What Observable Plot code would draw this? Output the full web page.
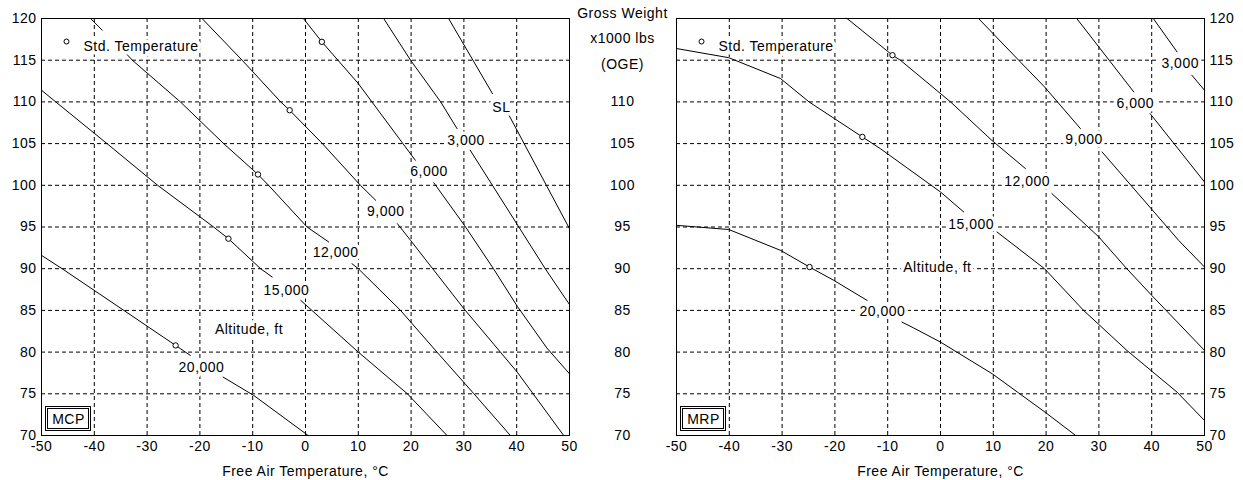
<!DOCTYPE html>
<html>
<head>
<meta charset="utf-8">
<script src="https://cdn.jsdelivr.net/npm/d3@7"></script>
<script src="https://cdn.jsdelivr.net/npm/@observablehq/plot@0.6"></script>
<style>
  html, body { margin: 0; padding: 0; background: #fff; }
  #chart { display: flex; width: 1243px; height: 480px; background: #fff; }
  #chart svg { flex: none; }
</style>
</head>
<body>
<div id="chart"></div>
<script>
// ---------- tick labels ----------
const xTicks = [-50, -40, -30, -20, -10, 0, 10, 20, 30, 40, 50];
const yTicks = [70, 75, 80, 85, 90, 95, 100, 105, 110, 115, 120];
const centerTicks = [70, 75, 80, 85, 90, 95, 100, 105, 110];
const gridXTicks = [-40, -30, -20, -10, 0, 10, 20, 30, 40];
const gridYTicks = [75, 80, 85, 90, 95, 100, 105, 110, 115];

// ---------- MCP curves [temperature °C, gross weight x1000 lbs]; null = gap ----------
const mcpSL    = [[27.1,120],[35.4,111],null,[38.2,108.8],[50,94.8]];
const mcp3000  = [[14.8,120],[19.9,115],[25.6,110],[28.7,106.8],null,[31.2,104.2],[40.4,95],[45.4,90],[50,85.7]];
const mcp6000  = [[-0.4,120],[3.1,117.2],[10,112.2],[20.8,103],null,[24.3,100.3],[30.1,95.2],[35.6,90],[40.1,85.5],[45.7,80.5],[50,77.4]];
const mcp9000  = [[-19.6,120],[-12,115],[-4.7,110],[-3,109],[3.2,105],[10.4,100],[13.3,98.2],null,[17.4,95.4],[19.9,93.4],[30,85.2],[40.1,77.6],[48.9,70]];
const mcp12000 = [[-40.7,120],[-38.5,118.6],null,[-34.4,116.1],[-32.8,115],[-23.7,110],[-15.5,105],[-9,101.3],[-7,100],[0.3,95],[4.4,93.2],null,[8.8,90.6],[10,90],[18,85],[24.9,80],[31.9,75],[38.8,70]];
const mcp15000 = [[-50,111.4],[-47.3,110],[-37.6,105],[-28,100],[-17.4,95],[-14.6,93.6],[-8.5,90],[-6.3,89],null,[-0.9,86.2],[10,80],[19.3,75],[26.8,70]];
const mcp20000 = [[-50,91.6],[-46.1,90],[-34.4,85],[-24.6,80.8],[-21.8,79.6],null,[-15.6,77],[-9.8,74.8],[0.5,70]];

// ---------- MRP curves ----------
const mrp3000  = [[40.3,120],[44.8,116],null,[47.6,113.2],[50,111.4]];
const mrp6000  = [[25.8,120],[36.6,111.2],null,[39.7,108.6],[50,100.4]];
const mrp9000  = [[7.2,120],[14.8,115],[19.7,111.8],[26.5,106.8],null,[30.6,104],[45.1,93.4],[50,90.2]];
const mrp12000 = [[-17.7,120],[-9.1,115.6],[-7.6,115],[1.9,110],[9.7,105.4],[16.1,102],null,[21.1,99],[30,93.8],[35,90.2],[40,86.8],[50,80.2]];
const mrp15000 = [[-50,116.4],[-40.1,115.3],[-30.3,112.8],[-24.9,110],[-14.8,105.8],[-11.4,104.4],[0,99.2],[4.4,96.8],null,[10.7,94.4],[19.7,90],[27.1,85],[35.3,80.2],[44.8,75.2],[50,71.8]];
const mrp20000 = [[-50,95.2],[-40.1,94.7],[-30.3,92.2],[-24.8,90.2],[-20.2,88.6],[-13.9,86.2],null,[-7.3,83.6],[-5.1,82.9],[0,81.2],[9.8,77.4],[14.8,75.1],[19.8,72.8],[25.6,70]];

// ---------- standard temperature points ----------
const mcpStdT = [-24.6, -14.6, -9, -3, 3.1];
const mcpStdW = [80.8, 93.6, 101.3, 109, 117.2];
const mrpStdT = [-24.8, -14.8, -9.1];
const mrpStdW = [90.2, 105.8, 115.6];

// ---------- curve labels ----------
const mcpLabelText = ["SL", "3,000", "6,000", "9,000", "12,000", "15,000", "20,000", "Altitude, ft"];
const mcpLabelT    = [37.1, 30.4, 23.4, 15.2, 5.7, -3.6, -19.7, -10.7];
const mcpLabelW    = [109.3, 105.4, 101.6, 96.8, 92, 87.4, 78.2, 82.7];
const mrpLabelText = ["3,000", "6,000", "9,000", "12,000", "15,000", "20,000", "Altitude, ft"];
const mrpLabelT    = [45.4, 36.9, 27.2, 16.4, 5.8, -11, -0.6];
const mrpLabelW    = [114.6, 109.8, 105.5, 100.5, 95.3, 84.9, 90.2];

const xTitle = "Free Air Temperature, °C";
const yTitle = "Gross Weight\nx1000 lbs\n(OGE)";
const legendText = "Std. Temperature";

// ---------- build tables ----------
function rows(series) {
  return series.flatMap(([alt, pts]) =>
    pts.map(p => p ? {alt, T: p[0], W: p[1]} : {alt, T: NaN, W: NaN}));
}
const mcpRows = rows([["SL", mcpSL], ["3000", mcp3000], ["6000", mcp6000], ["9000", mcp9000], ["12000", mcp12000], ["15000", mcp15000], ["20000", mcp20000]]);
const mrpRows = rows([["3000", mrp3000], ["6000", mrp6000], ["9000", mrp9000], ["12000", mrp12000], ["15000", mrp15000], ["20000", mrp20000]]);
const zip2 = (a, b) => a.map((v, i) => ({T: v, W: b[i]}));
const zip3 = (s, a, b) => s.map((t, i) => ({text: t, T: a[i], W: b[i]}));

const fmt = d => String(d);
const style = {
  fontFamily: "'Liberation Sans', Arial, sans-serif",
  fontSize: "14px",
  letterSpacing: "0.5px",
  background: "transparent",
  color: "black",
  overflow: "visible"
};

function boxMark(label) {
  return (index, scales, values, dims) => {
    const w = 45, h = 24;
    const x0 = dims.marginLeft + 4;
    const y0 = dims.height - dims.marginBottom - 5 - h;
    const g = d3.create("svg:g");
    g.append("rect").attr("x", x0 + 0.5).attr("y", y0 + 0.5).attr("width", w).attr("height", h)
      .attr("fill", "white").attr("stroke", "black");
    g.append("rect").attr("x", x0 + 2.5).attr("y", y0 + 2.5).attr("width", w - 4).attr("height", h - 4)
      .attr("fill", "none").attr("stroke", "black");
    g.append("text").attr("x", x0 + w / 2 + 1).attr("y", y0 + h / 2 + 1).attr("text-anchor", "middle")
      .attr("dy", "0.35em").attr("fill", "black").text(label);
    return g.node();
  };
}

function panel({width, marginLeft, marginRight, data, stdT, stdW, labT, labW, labText, box, left}) {
  const marks = [
    Plot.gridX(gridXTicks, {stroke: "black", strokeOpacity: 1, strokeDasharray: "4,3"}),
    Plot.gridY(gridYTicks, {stroke: "black", strokeOpacity: 1, strokeDasharray: "4,3"}),
    Plot.line(data, {x: "T", y: "W", z: "alt", stroke: "black", strokeWidth: 1}),
    Plot.dot(zip2(stdT, stdW), {x: "T", y: "W", r: 2.7, stroke: "black", strokeWidth: 1, fill: "white"}),
    Plot.text(zip3(labText, labT, labW), {x: "T", y: "W", text: "text", fill: "black", stroke: "white", strokeWidth: 7}),
    Plot.text([legendText], {frameAnchor: "top-left", dx: 42, dy: 23, textAnchor: "start", fill: "black", stroke: "white", strokeWidth: 7}),
    Plot.dot([legendText], {frameAnchor: "top-left", dx: 25, dy: 23, r: 2.5, stroke: "black", strokeWidth: 1, fill: "white"}),
    Plot.frame({stroke: "black"}),
    Plot.axisX(xTicks, {tickSize: 0, tickPadding: 6, tickFormat: fmt, label: xTitle, labelAnchor: "center", labelOffset: 40, labelArrow: "none"}),
    boxMark(box)
  ];
  if (left) {
    marks.push(
      Plot.axisY(yTicks, {anchor: "left", tickSize: 0, tickPadding: 5, tickFormat: fmt, label: null}),
      Plot.axisY(centerTicks, {anchor: "right", tickSize: 0, tickPadding: 53, textAnchor: "middle", tickFormat: fmt, label: null}),
      Plot.text([yTitle], {frameAnchor: "top-right", dx: 53, dy: -19, textAnchor: "middle", lineAnchor: "top", lineHeight: 1.82, fill: "black"})
    );
  } else {
    marks.push(Plot.axisY(yTicks, {anchor: "right", tickSize: 0, tickPadding: 5, tickFormat: fmt, label: null}));
  }
  return Plot.plot({
    width, height: 480, marginLeft, marginRight, marginTop: 18, marginBottom: 45,
    style,
    x: {domain: [-50, 50]},
    y: {domain: [70, 120]},
    marks
  });
}

const chart = document.getElementById("chart");
const leftSvg = panel({width: 622, marginLeft: 41, marginRight: 53, data: mcpRows, stdT: mcpStdT, stdW: mcpStdW,
  labT: mcpLabelT, labW: mcpLabelW, labText: mcpLabelText, box: "MCP", left: true});
const rightSvg = panel({width: 621, marginLeft: 54, marginRight: 39, data: mrpRows, stdT: mrpStdT, stdW: mrpStdW,
  labT: mrpLabelT, labW: mrpLabelW, labText: mrpLabelText, box: "MRP", left: false});
leftSvg.style.position = "relative";
leftSvg.style.zIndex = "1";
chart.append(leftSvg, rightSvg);
</script>
</body>
</html>
